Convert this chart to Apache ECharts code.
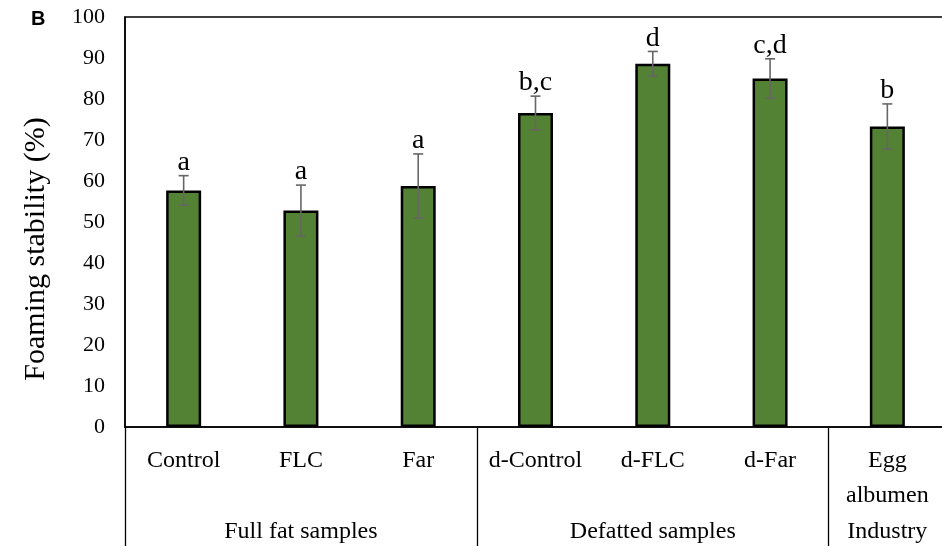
<!DOCTYPE html>
<html>
<head>
<meta charset="utf-8">
<script src="https://cdn.jsdelivr.net/npm/echarts@6/dist/echarts.min.js"></script>
<style>html,body{margin:0;padding:0;background:#fff}#c{width:942px;height:546px}</style>
</head>
<body>
<div id="c"></div>
<script>
const categories = ["Control", "FLC", "Far", "d-Control", "d-FLC", "d-Far", "Egg\nalbumen"];
const groupLabels = ["", "Full fat samples", "", "", "Defatted samples", "", "Industry"];
const groupStarts = [0, 3, 6];
const values = [57.7, 52.8, 58.8, 76.6, 88.6, 85.0, 73.3];
const errors = [3.6, 6.2, 7.8, 4.1, 3.0, 4.8, 5.5];
const letters = ["a", "a", "a", "b,c", "d", "c,d", "b"];
const yTicks = [0, 10, 20, 30, 40, 50, 60, 70, 80, 90, 100];
const yTitle = "Foaming stability (%)";

const serif = "'Liberation Serif', 'Times New Roman', serif";
const chart = echarts.init(document.getElementById('c'), null, {renderer: 'canvas'});

const errData = values.map((v, i) => [i, v, errors[i], letters[i]]);

chart.setOption({
  animation: false,
  backgroundColor: '#fff',
  graphic: [{
    type: 'text', left: 31, top: 9,
    style: {text: 'B', font: "bold 20px 'Liberation Sans', Arial, sans-serif", fill: '#000'}
  }, {
    type: 'text', x: 36, y: 249, rotation: Math.PI / 2,
    style: {text: yTitle, font: "30px " + serif, fill: '#000', textAlign: 'center', textVerticalAlign: 'middle'}
  }],
  grid: {left: 125, top: 17, width: 821, height: 410, outerBoundsMode: 'none', containLabel: false,
         show: true, borderColor: '#000', borderWidth: 1.5, backgroundColor: 'transparent'},
  xAxis: [{
    type: 'category', data: categories, position: 'bottom',
    axisLine: {show: true, lineStyle: {color: '#000', width: 1.5}},
    axisTick: {show: true, length: 125, interval: function (i) { return groupStarts.indexOf(i) >= 0; }, lineStyle: {color: '#000', width: 1.3}},
    axisLabel: {interval: 0, color: '#000', fontFamily: serif, fontSize: 24, margin: 16, lineHeight: 35},
    splitLine: {show: false}
  }, {
    type: 'category', data: groupLabels, position: 'bottom', offset: 0,
    axisLine: {show: false}, axisTick: {show: false},
    axisLabel: {interval: 0, color: '#000', fontFamily: serif, fontSize: 24, margin: 93},
    splitLine: {show: false}
  }],
  yAxis: {
    type: 'value', min: yTicks[0], max: yTicks[yTicks.length - 1], interval: 10,
    axisLine: {show: true, lineStyle: {color: '#000', width: 1.5}},
    axisTick: {show: false},
    splitLine: {show: false},
    axisLabel: {color: '#000', fontFamily: serif, fontSize: 22, margin: 20}
  },
  series: [{
    type: 'bar', data: values, barWidth: 35, xAxisIndex: 0,
    itemStyle: {color: '#548235', borderColor: '#000', borderWidth: 2.5}
  }, {
    type: 'custom', xAxisIndex: 0, data: errData, z: 10,
    renderItem: function (params, api) {
      const x = api.value(0), v = api.value(1), e = api.value(2);
      const top = api.coord([x, v + e]);
      const bot = api.coord([x, v - e]);
      const hw = 5;
      const ls = {stroke: '#666', lineWidth: 1.6};
      return {type: 'group', children: [
        {type: 'line', shape: {x1: top[0], y1: top[1], x2: bot[0], y2: bot[1]}, style: ls},
        {type: 'line', shape: {x1: top[0] - hw, y1: top[1], x2: top[0] + hw, y2: top[1]}, style: ls},
        {type: 'line', shape: {x1: bot[0] - hw, y1: bot[1], x2: bot[0] + hw, y2: bot[1]}, style: ls},
        {type: 'text', x: top[0], y: top[1] - 13, style: {text: api.value(3), fill: '#000', font: "28px " + serif, textAlign: 'center', textVerticalAlign: 'middle'}}
      ]};
    }
  }]
});
</script>
</body>
</html>
